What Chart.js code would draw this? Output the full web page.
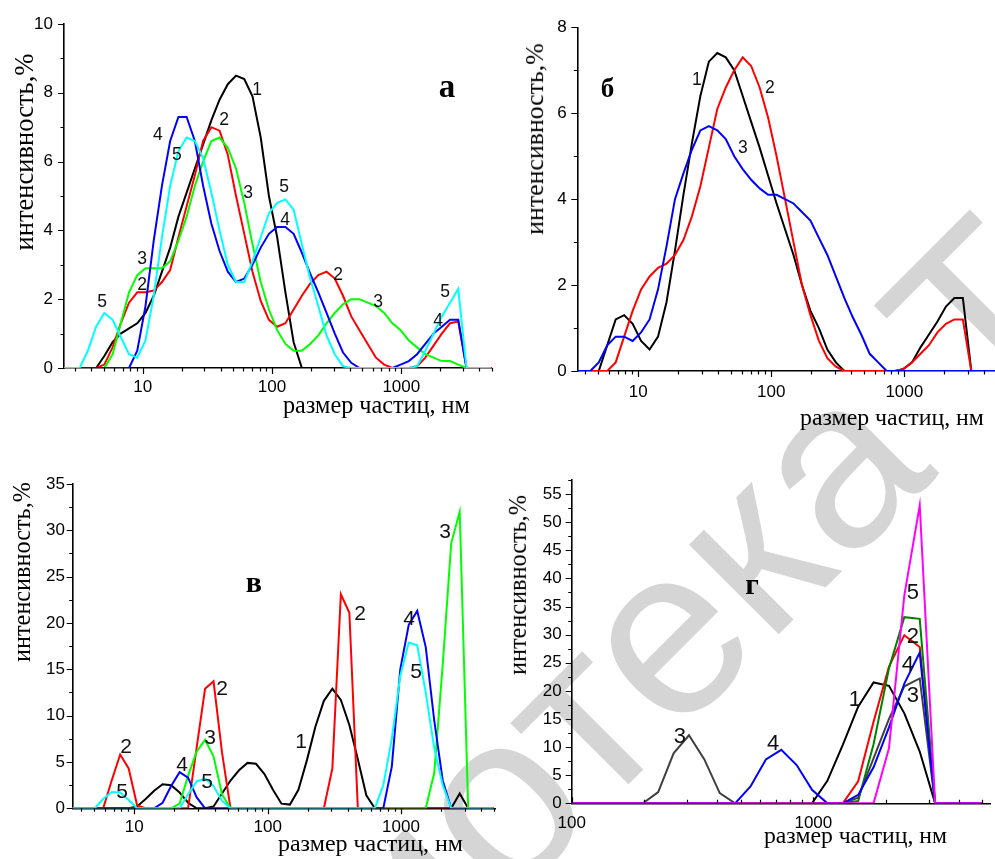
<!DOCTYPE html>
<html>
<head>
<meta charset="utf-8">
<script src="https://cdn.jsdelivr.net/npm/chart.js@4.4.0/dist/chart.umd.min.js"></script>
<style>
html, body { margin: 0; padding: 0; background: #fff; }
#page { position: relative; width: 995px; height: 859px; overflow: hidden; background: #fff; }
canvas { position: absolute; }
.t { position: absolute; white-space: nowrap; font-family: "Liberation Serif", "Times New Roman", serif; line-height: 1; color: #000; }
.yt { transform: translate(-50%, -50%) rotate(-90deg); }
.let { font-weight: bold; transform: translateX(-50%); }
#wm { position: absolute; white-space: nowrap; font-family: "Liberation Sans", Arial, sans-serif; color: #d5d5d5; line-height: 1; }
</style>
</head>
<body>
<div id="page">
  <div id="wm">Библиотека ТвГУ</div>
  <canvas id="chA" width="500" height="430" style="left:0;top:0"></canvas>
  <canvas id="chB" width="495" height="440" style="left:500px;top:0"></canvas>
  <canvas id="chC" width="500" height="419" style="left:0;top:440px"></canvas>
  <canvas id="chD" width="495" height="419" style="left:500px;top:440px"></canvas>
</div>
<script>
// particle size grid, nm (same classes in all four panels)
const SIZES = [
  2.424, 2.807, 3.25, 3.763, 4.357, 5.045, 5.843, 6.764, 7.832, 9.07,
  10.5, 12.16, 14.08, 16.3, 18.88, 21.85, 25.3, 29.3, 33.92, 39.28,
  45.48, 52.66, 60.98, 70.6, 81.75, 94.6, 109.6, 126.9, 146.9, 170.1,
  197, 228, 264, 305.7, 354, 409.9, 474.6, 549.5, 636.3, 736.8,
  853.1, 987.6, 1143, 1324, 1533, 1775, 2056, 2380, 2756, 3191,
  3695, 4278, 4953
];

// panel а
const a1 = [
  0, 0, 0, 0, 0, 0.35, 0.75, 1.0, 1.15, 1.3,
  1.6, 2.1, 2.8, 3.5, 4.4, 5.1, 5.8, 6.5, 7.2, 7.8,
  8.25, 8.5, 8.4, 7.9, 6.7, 5.0, 3.8, 2.2, 0.75, 0,
  0, 0, 0, 0, 0, 0, 0, 0, 0, 0,
  0, 0, 0, 0, 0, 0, 0, 0, 0, 0,
  0, 0, 0
];
const a2 = [
  0, 0, 0, 0, 0, 0.1, 0.6, 1.3, 1.9, 2.2,
  2.2, 2.25, 2.5, 2.85, 3.8, 4.7, 5.6, 6.6, 7.0, 6.9,
  6.2, 5.0, 3.9, 2.8, 1.95, 1.4, 1.2, 1.3, 1.7, 2.1,
  2.45, 2.7, 2.8, 2.6, 2.1, 1.5, 1.1, 0.7, 0.3, 0.1,
  0, 0, 0, 0.05, 0.3, 0.65, 1.0, 1.3, 1.35, 0,
  0, 0, 0
];
const a3 = [
  0, 0, 0, 0, 0, 0, 0.4, 1.3, 2.2, 2.7,
  2.9, 2.9, 2.9, 3.1, 3.7, 4.4, 5.3, 6.0, 6.6, 6.7,
  6.4, 5.8, 4.8, 3.6, 2.5, 1.7, 1.1, 0.7, 0.5, 0.5,
  0.7, 0.95, 1.3, 1.6, 1.85, 2.0, 2.0, 1.9, 1.8, 1.6,
  1.3, 1.1, 0.8, 0.6, 0.4, 0.3, 0.2, 0.2, 0.1, 0,
  0, 0, 0
];
const a4 = [
  0, 0, 0, 0, 0, 0, 0, 0, 0, 0.5,
  1.8, 3.7, 5.3, 6.6, 7.3, 7.3, 6.6, 5.3, 4.2, 3.4,
  2.8, 2.5, 2.6, 3.0, 3.5, 3.9, 4.1, 4.1, 3.9, 3.35,
  2.75, 2.2, 1.6, 1.0, 0.45, 0.15, 0, 0, 0, 0,
  0, 0.1, 0.2, 0.4, 0.7, 1.0, 1.2, 1.4, 1.4, 0,
  0, 0, 0
];
const a5 = [
  0, 0, 0, 0.5, 1.2, 1.6, 1.4, 0.9, 0.4, 0.3,
  0.8, 2.1, 3.8, 5.3, 6.3, 6.7, 6.6, 6.1, 5.1, 4.0,
  3.0, 2.5, 2.5, 3.1, 3.8, 4.5, 4.8, 4.9, 4.6, 3.6,
  2.6, 1.8, 0.95, 0.4, 0.05, 0, 0, 0, 0, 0,
  0, 0, 0, 0.05, 0.5, 1.0, 1.5, 1.9, 2.3, 0,
  0, 0, 0
];

// panel б
const b1 = [
  0, 0, 0, 0, 0, 0, 0.6, 1.2, 1.3, 1.1,
  0.7, 0.5, 0.8, 1.6, 2.8, 4.1, 5.3, 6.4, 7.2, 7.4,
  7.3, 7.0, 6.4, 5.8, 5.2, 4.55, 3.9, 3.3, 2.7, 2.0,
  1.4, 1.0, 0.5, 0.2, 0, 0, 0, 0, 0, 0,
  0, 0.05, 0.2, 0.55, 0.85, 1.15, 1.5, 1.7, 1.7, 0,
  0, 0, 0
];
const b2 = [
  0, 0, 0, 0, 0, 0, 0, 0.2, 0.8, 1.4,
  1.9, 2.2, 2.4, 2.5, 2.7, 3.05, 3.6, 4.3, 5.2, 6.1,
  6.6, 7.0, 7.3, 7.1, 6.6, 5.9, 5.0, 4.0, 3.0, 2.0,
  1.3, 0.7, 0.3, 0.1, 0, 0, 0, 0, 0, 0,
  0, 0.05, 0.2, 0.4, 0.6, 0.9, 1.1, 1.2, 1.2, 0,
  0, 0, 0
];
const b3 = [
  0, 0, 0, 0, 0, 0.2, 0.6, 0.8, 0.8, 0.7,
  0.9, 1.2, 1.9, 2.9, 4.0, 4.6, 5.15, 5.6, 5.7, 5.6,
  5.4, 5.0, 4.7, 4.45, 4.25, 4.1, 4.1, 4.0, 3.9, 3.7,
  3.5, 3.1, 2.7, 2.2, 1.7, 1.25, 0.85, 0.4, 0.2, 0,
  0, 0, 0, 0, 0, 0, 0, 0, 0, 0,
  0, 0, 0
];

// panel в
const c1 = [
  0, 0, 0, 0, 0, 0, 0, 0, 0, 0,
  0.2, 1.0, 1.9, 2.6, 2.5, 1.7, 0.6, 0, 0, 0.2,
  1.6, 3.0, 4.1, 4.9, 4.8, 3.7, 2.0, 0.5, 0.4, 2.0,
  5.2, 8.8, 11.6, 12.9, 11.7, 9.0, 5.3, 1.4, 0, 0,
  0, 0, 0, 0, 0, 0, 0, 0, 1.6, 0,
  0, 0, 0
];
const c2 = [
  0, 0, 0, 0, 0, 0, 0, 3.0, 5.8, 4.3,
  0.3, 0, 0, 0, 0, 0, 0, 6.5, 12.9, 13.7,
  6.0, 0, 0, 0, 0, 0, 0, 0, 0, 0,
  0, 0, 0, 4.3, 23.1, 21.1, 0, 0, 0, 0,
  0, 0, 0, 0, 0, 0, 0, 0, 0, 0,
  0, 0, 0
];
const c3 = [
  0, 0, 0, 0, 0, 0, 0, 0, 0, 0,
  0, 0, 0, 0, 0, 0.5, 3.5, 6.1, 7.4, 5.6,
  1.5, 0, 0, 0, 0, 0, 0, 0, 0, 0,
  0, 0, 0, 0, 0, 0, 0, 0, 0, 0,
  0, 0, 0, 0, 0, 3.8, 15.5, 28.6, 32.0, 0,
  0, 0, 0
];
const c4 = [
  0, 0, 0, 0, 0, 0, 0, 0, 0, 0,
  0, 0, 0, 0.6, 2.4, 3.9, 3.3, 1.2, 0, 0,
  0, 0, 0, 0, 0, 0, 0, 0, 0, 0,
  0, 0, 0, 0, 0, 0, 0, 0, 0, 0,
  4.5, 15.0, 19.8, 21.3, 17.4, 9.5, 3.0, 0, 0, 0,
  0, 0, 0
];
const c5 = [
  0, 0, 0, 0, 0, 0, 1.0, 1.75, 1.7, 0.9,
  0, 0, 0, 0, 0, 0, 1.5, 2.9, 3.2, 2.4,
  0.8, 0, 0, 0, 0, 0, 0, 0, 0, 0,
  0, 0, 0, 0, 0, 0, 0, 0, 0, 2.5,
  7.5, 14.3, 17.9, 17.6, 12.5, 6.5, 2.5, 0, 0, 0,
  0, 0, 0
];

// panel г
const d1 = [
  0, 0, 0, 0, 0, 0, 0, 0, 0, 0,
  0, 0, 0, 0, 0, 0, 0, 0, 0, 0,
  0, 0, 0, 0, 0, 0, 0, 0, 0, 0,
  0, 0, 0, 0, 0, 0, 0, 0, 0, 0,
  0, 0, 4.0, 10.4, 17.2, 21.5, 20.9, 16.0, 9.2, 0,
  0, 0, 0
];
const d2 = [
  0, 0, 0, 0, 0, 0, 0, 0, 0, 0,
  0, 0, 0, 0, 0, 0, 0, 0, 0, 0,
  0, 0, 0, 0, 0, 0, 0, 0, 0, 0,
  0, 0, 0, 0, 0, 0, 0, 0, 0, 0,
  0, 0, 0, 0, 3.9, 14.5, 24.3, 29.9, 27.8, 0,
  0, 0, 0
];
const d3 = [
  0, 0, 0, 0, 0, 0, 0, 0, 0, 0,
  0, 0, 0, 0, 0, 0, 0, 0, 0, 0,
  0, 0, 0, 0, 0, 0, 0, 0, 0, 0,
  0, 2.0, 8.9, 12.1, 7.8, 1.8, 0, 0, 0, 0,
  0, 0, 0, 0, 1.0, 8.0, 15.0, 20.8, 22.2, 0,
  0, 0, 0
];
const d4 = [
  0, 0, 0, 0, 0, 0, 0, 0, 0, 0,
  0, 0, 0, 0, 0, 0, 0, 0, 0, 0,
  0, 0, 0, 0, 0, 0, 0, 0, 0, 0,
  0, 0, 0, 0, 0, 0, 0, 3.0, 7.8, 9.5,
  6.8, 2.4, 0, 0, 1.5, 6.4, 13.5, 21.3, 26.8, 0,
  0, 0, 0
];
const d5 = [
  0, 0, 0, 0, 0, 0, 0, 0, 0, 0,
  0, 0, 0, 0, 0, 0, 0, 0, 0, 0,
  0, 0, 0, 0, 0, 0, 0, 0, 0, 0,
  0, 0, 0, 0, 0, 0, 0, 0, 0, 0,
  0, 0, 0, 0, 0, 0, 9.8, 37, 53, 0,
  0, 0, 0
];
const d6 = [
  0, 0, 0, 0, 0, 0, 0, 0, 0, 0,
  0, 0, 0, 0, 0, 0, 0, 0, 0, 0,
  0, 0, 0, 0, 0, 0, 0, 0, 0, 0,
  0, 0, 0, 0, 0, 0, 0, 0, 0, 0,
  0, 0, 0, 0, 0.4, 10.5, 24.0, 33.1, 32.8, 0,
  0, 0, 0
];

// tick labels
const X_TICKS = [10, 100, 1000];
const X_TICKS_D = [100, 1000];
const X_MINOR = [2, 3, 4, 5, 6, 7, 8, 9, 20, 30, 40, 50, 60, 70, 80, 90,
  200, 300, 400, 500, 600, 700, 800, 900, 2000, 3000, 4000, 5000];
const Y_TICKS_A = [0, 2, 4, 6, 8, 10];
const Y_MINOR_A = [1, 3, 5, 7, 9];
const Y_TICKS_B = [0, 2, 4, 6, 8];
const Y_MINOR_B = [1, 3, 5, 7];
const Y_TICKS_C = [0, 5, 10, 15, 20, 25, 30, 35];
const Y_MINOR_C = [2.5, 7.5, 12.5, 17.5, 22.5, 27.5, 32.5];
const Y_TICKS_D = [0, 5, 10, 15, 20, 25, 30, 35, 40, 45, 50, 55];
const Y_MINOR_D = [2.5, 7.5, 12.5, 17.5, 22.5, 27.5, 32.5, 37.5, 42.5, 47.5, 52.5, 57.5];

// curve numbers: [text, size nm, intensity %]
const LABELS_A = [['1', 76.6, 8.08], ['2', 42.6, 7.21], ['4', 13.1, 6.77], ['5', 18.4, 6.19],
  ['3', 65.2, 5.09], ['5', 124, 5.26], ['4', 126, 4.3], ['3', 9.9, 3.17], ['2', 9.9, 2.41],
  ['5', 4.85, 1.92], ['2', 324, 2.7], ['3', 661, 1.92], ['5', 2178, 2.21], ['4', 1923, 1.37]];
const LABELS_B = [['1', 27.6, 6.77], ['2', 97.7, 6.59], ['3', 61.2, 5.19]];
const LABELS_C = [['3', 2143, 29.8], ['2', 493, 20.9], ['4', 1151, 20.4], ['5', 1297, 14.7],
  ['2', 45.5, 12.8], ['1', 178, 7.15], ['3', 37, 7.58], ['2', 8.67, 6.62], ['4', 22.8, 4.67],
  ['5', 35.1, 2.84], ['5', 8.09, 1.76]];
const LABELS_D = [['5', 2582, 37.4], ['2', 2582, 29.6], ['4', 2460, 24.6], ['3', 2582, 19.1],
  ['1', 1486, 18.4], ['3', 280, 11.8], ['4', 681, 10.6]];

const TITLE_X = 'размер частиц, нм';
const TITLE_Y = 'интенсивность,%';

const SANS = '"Liberation Sans", Arial, sans-serif';

// small outward/inward tick marks, long at labelled values
const tickMarks = {
  id: 'tickMarks',
  afterDraw(chart, args, o) {
    const { ctx, chartArea: ca } = chart;
    const xs = chart.scales.x, ys = chart.scales.y;
    const dir = o.xInward ? -1 : 1;
    ctx.save();
    ctx.strokeStyle = '#000';
    ctx.lineWidth = 1.2;
    ctx.beginPath();
    const xTick = (v, len) => {
      if (v < xs.min || v > xs.max) return;
      const p = Math.round(xs.getPixelForValue(v)) + 0.5;
      ctx.moveTo(p, ca.bottom);
      ctx.lineTo(p, ca.bottom + dir * len);
    };
    const yTick = (v, len) => {
      if (v < ys.min || v > ys.max) return;
      const p = Math.round(ys.getPixelForValue(v)) + 0.5;
      ctx.moveTo(ca.left, p);
      ctx.lineTo(ca.left - len, p);
    };
    o.xMajor.forEach(v => xTick(v, 6));
    X_MINOR.forEach(v => xTick(v, 3.5));
    o.yMajor.forEach(v => yTick(v, 6));
    o.yMinor.forEach(v => yTick(v, 3.5));
    ctx.stroke();
    ctx.restore();
  }
};

const curveLabels = {
  id: 'curveLabels',
  afterDatasetsDraw(chart, args, o) {
    const { ctx } = chart;
    const xs = chart.scales.x, ys = chart.scales.y;
    ctx.save();
    ctx.font = o.size + 'px ' + SANS;
    ctx.fillStyle = '#111';
    ctx.textAlign = 'center';
    ctx.textBaseline = 'middle';
    o.items.forEach(([t, xv, yv]) => ctx.fillText(t, xs.getPixelForValue(xv), ys.getPixelForValue(yv)));
    ctx.restore();
  }
};

function buildChart(id, p) {
  const datasets = p.series.map(([vals, color, order]) => ({
    data: SIZES.map((x, i) => ({ x, y: vals[i] })),
    borderColor: color,
    borderWidth: 2,
    pointRadius: 0,
    tension: 0,
    fill: false,
    order
  }));
  return new Chart(document.getElementById(id), {
    type: 'line',
    data: { datasets },
    options: {
      responsive: false,
      animation: false,
      devicePixelRatio: 1,
      layout: { padding: { left: 0, top: p.top, right: p.right, bottom: 0 } },
      plugins: {
        legend: { display: false },
        tooltip: { enabled: false },
        tickMarks: { xMajor: p.xTicks, yMajor: p.yTicks, yMinor: p.yMinor, xInward: !!p.xInward },
        curveLabels: { items: p.labels, size: p.labelSize }
      },
      scales: {
        x: {
          type: 'logarithmic', min: p.xMin, max: p.xMax,
          grid: { display: false, drawTicks: false, tickLength: 0 },
          border: { display: true, color: '#000', width: 1.6 },
          ticks: { color: '#000', font: { family: SANS, size: 17 }, padding: p.xPad,
                   autoSkip: false, maxRotation: 0, callback: v => String(v) },
          afterBuildTicks: s => { s.ticks = p.xTicks.map(v => ({ value: v })); },
          afterFit: s => { s.height = p.xH; }
        },
        y: {
          type: 'linear', min: 0, max: p.yMax,
          grid: { display: false, drawTicks: false, tickLength: 0 },
          border: { display: true, color: '#000', width: 1.6 },
          ticks: { color: '#000', font: { family: SANS, size: 17 }, padding: p.yPad,
                   autoSkip: false, callback: v => String(v) },
          afterBuildTicks: s => { s.ticks = p.yTicks.map(v => ({ value: v })); },
          afterFit: s => { s.width = p.yW; }
        }
      }
    },
    plugins: [tickMarks, curveLabels]
  });
}

// ---- HTML text: axis titles, panel letters, watermark ----
const mctx = document.createElement('canvas').getContext('2d');
function textWidth(text, font) { mctx.font = font; return mctx.measureText(text).width; }
const page = document.getElementById('page');
function addDiv(text, cls, css) {
  const d = document.createElement('div');
  d.className = cls;
  d.textContent = text;
  Object.assign(d.style, css);
  page.appendChild(d);
  return d;
}
function xTitle(left, width, base) {
  const fs = width / textWidth(TITLE_X, '100px "Liberation Serif"') * 100;
  addDiv(TITLE_X, 't', { left: left + 'px', top: (base - 0.8375 * fs) + 'px', fontSize: fs + 'px' });
}
function yTitle(cx, yStart, yEnd) {
  const fs = (yStart - yEnd) / textWidth(TITLE_Y, '100px "Liberation Serif"') * 100;
  addDiv(TITLE_Y, 't yt', { left: (cx - 0.1135 * fs) + 'px', top: ((yStart + yEnd) / 2) + 'px', fontSize: fs + 'px' });
}
function letter(ch, cx, base, size) {
  addDiv(ch, 't let', { left: cx + 'px', top: (base - 0.8375 * size) + 'px', fontSize: size + 'px' });
}
function watermark(cx, cy, fs, deg) {
  const wm = document.getElementById('wm');
  const font = fs + 'px "Liberation Sans"';
  const pre = textWidth('Библи', font);
  const ow = textWidth('о', font);
  const a = deg * Math.PI / 180;
  const u = [Math.cos(a), Math.sin(a)], up = [Math.sin(a), -Math.cos(a)];
  const along = pre + ow / 2, rise = 0.26 * fs;
  const ox = cx - u[0] * along - up[0] * rise;
  const oy = cy - u[1] * along - up[1] * rise;
  const bl = 0.8465 * fs;
  Object.assign(wm.style, {
    fontSize: fs + 'px', left: ox + 'px', top: (oy - bl) + 'px',
    transformOrigin: '0px ' + bl + 'px', transform: 'rotate(' + deg + 'deg)'
  });
}

watermark(510, 815, 240, -45);

buildChart('chA', {
  series: [[a1, '#000000', 5], [a2, '#ff0000', 4], [a3, '#00ff00', 3], [a4, '#0000ff', 2], [a5, '#00ffff', 1]],
  top: 24, right: 8.3, yW: 64, xH: 62, xMin: 2.46, xMax: 5000, yMax: 10,
  xTicks: X_TICKS, yTicks: Y_TICKS_A, yMinor: Y_MINOR_A, xPad: 9, yPad: 11,
  labels: LABELS_A, labelSize: 17.5
});
buildChart('chB', {
  series: [[b1, '#000000', 3], [b2, '#ff0000', 2], [b3, '#0000ff', 1]],
  top: 27.3, right: 0, yW: 77.3, xH: 69, xMin: 3.48, xMax: 4808, yMax: 8,
  xTicks: X_TICKS, yTicks: Y_TICKS_B, yMinor: Y_MINOR_B, xPad: 11, yPad: 10.6,
  labels: LABELS_B, labelSize: 17.5
});
buildChart('chC', {
  series: [[c1, '#000000', 5], [c2, '#ff0000', 4], [c3, '#00ff00', 3], [c4, '#0000ff', 2], [c5, '#00ffff', 1]],
  top: 44, right: 5, yW: 72.7, xH: 50.7, xMin: 3.45, xMax: 5070, yMax: 35,
  xTicks: X_TICKS, yTicks: Y_TICKS_C, yMinor: Y_MINOR_C, xPad: 9, yPad: 7.7,
  labels: LABELS_C, labelSize: 21
});
buildChart('chD', {
  series: [[d1, '#000000', 6], [d2, '#ff0000', 5], [d6, '#008000', 4], [d3, '#404040', 3], [d4, '#0000ff', 2], [d5, '#ff00ff', 1]],
  top: 40, right: 4.3, yW: 71.7, xH: 55.7, xMin: 100, xMax: 5420, yMax: 57.5,
  xTicks: X_TICKS_D, yTicks: Y_TICKS_D, yMinor: Y_MINOR_D, xPad: 10, yPad: 10, xInward: true,
  labels: LABELS_D, labelSize: 22
});

xTitle(283, 187, 413);
xTitle(800, 184, 425.7);
xTitle(278, 185, 852.3);
xTitle(764, 183, 844);
yTitle(26.7, 250, 53);
yTitle(537.5, 235, 43.3);
yTitle(24.5, 661.7, 481.7);
yTitle(520.8, 675, 495);
letter('а', 447, 98, 33);
letter('б', 607.5, 98, 27);
letter('в', 253.8, 592, 30);
letter('г', 752, 594, 30);
</script>
</body>
</html>
